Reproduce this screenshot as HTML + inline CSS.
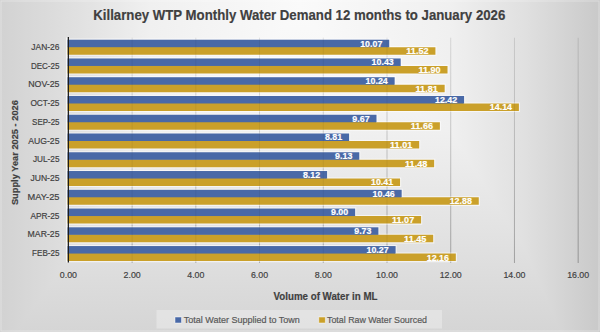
<!DOCTYPE html><html><head><meta charset="utf-8"><style>
html,body{margin:0;padding:0;width:600px;height:332px;overflow:hidden;background:#d8d8d8;}
#bgd{position:absolute;left:0;top:0;width:600px;height:332px;
background-image:linear-gradient(to right,#d2d2d2 0px,#e0e0e0 75px,#f0f0f0 150px,#fafafa 300px,#f0f0f0 450px,#e0e0e0 525px,#c9c9c9 600px),linear-gradient(to bottom,#fbfbfb 0px,#f4f4f4 100px,#d5d5d5 332px);
background-blend-mode:darken;}
svg{position:absolute;left:0;top:0;}
svg{display:block;font-family:"Liberation Sans",sans-serif;}
.d{stroke:#404040;stroke-width:0.18;}
.w{stroke:#fff;stroke-width:0.2;}
.l{stroke:#595959;stroke-width:0.2;}
</style></head><body>
<div id="bgd"></div>
<svg width="600" height="332" viewBox="0 0 600 332">
<defs>
<linearGradient id="gg" gradientUnits="userSpaceOnUse" x1="0" y1="37" x2="0" y2="263"><stop offset="0" stop-color="#000" stop-opacity="0.06"/><stop offset="0.5" stop-color="#000" stop-opacity="0.14"/><stop offset="1" stop-color="#000" stop-opacity="0.24"/></linearGradient>
<filter id="gl" x="-2%" y="-2%" width="104%" height="104%"><feGaussianBlur stdDeviation="0.45"/></filter>
</defs>
<rect x="1" y="1" width="598" height="330" fill="none" stroke="#fff" stroke-opacity="0.35" stroke-width="1"/>

<line x1="132.12" y1="37.6" x2="132.12" y2="263.0" stroke="url(#gg)" stroke-width="1"/>
<line x1="195.84" y1="37.6" x2="195.84" y2="263.0" stroke="url(#gg)" stroke-width="1"/>
<line x1="259.56" y1="37.6" x2="259.56" y2="263.0" stroke="url(#gg)" stroke-width="1"/>
<line x1="323.28" y1="37.6" x2="323.28" y2="263.0" stroke="url(#gg)" stroke-width="1"/>
<line x1="387.00" y1="37.6" x2="387.00" y2="263.0" stroke="url(#gg)" stroke-width="1"/>
<line x1="450.72" y1="37.6" x2="450.72" y2="263.0" stroke="url(#gg)" stroke-width="1"/>
<line x1="514.44" y1="37.6" x2="514.44" y2="263.0" stroke="url(#gg)" stroke-width="1"/>
<line x1="578.16" y1="37.6" x2="578.16" y2="263.0" stroke="url(#gg)" stroke-width="1"/>
<g filter="url(#gl)">
<path d="M68.40,39.70H389.23V47.20H435.43V54.70H68.40Z" fill="none" stroke="#fff" stroke-opacity="0.6" stroke-width="2.2"/>
<path d="M68.40,58.46H400.70V65.96H447.53V73.46H68.40Z" fill="none" stroke="#fff" stroke-opacity="0.6" stroke-width="2.2"/>
<path d="M68.40,77.22H394.65V84.72H444.67V92.22H68.40Z" fill="none" stroke="#fff" stroke-opacity="0.6" stroke-width="2.2"/>
<path d="M68.40,95.98H464.10V103.48H518.90V110.98H68.40Z" fill="none" stroke="#fff" stroke-opacity="0.6" stroke-width="2.2"/>
<path d="M68.40,114.74H376.49V122.24H439.89V129.74H68.40Z" fill="none" stroke="#fff" stroke-opacity="0.6" stroke-width="2.2"/>
<path d="M68.40,133.50H349.09V141.00H419.18V148.50H68.40Z" fill="none" stroke="#fff" stroke-opacity="0.6" stroke-width="2.2"/>
<path d="M68.40,152.26H359.28V159.76H434.15V167.26H68.40Z" fill="none" stroke="#fff" stroke-opacity="0.6" stroke-width="2.2"/>
<path d="M68.40,171.02H327.10V178.52H400.06V186.02H68.40Z" fill="none" stroke="#fff" stroke-opacity="0.6" stroke-width="2.2"/>
<path d="M68.40,189.78H401.66V197.28H478.76V204.78H68.40Z" fill="none" stroke="#fff" stroke-opacity="0.6" stroke-width="2.2"/>
<path d="M68.40,208.54H355.14V216.04H421.09V223.54H68.40Z" fill="none" stroke="#fff" stroke-opacity="0.6" stroke-width="2.2"/>
<path d="M68.40,227.30H378.40V234.80H433.20V242.30H68.40Z" fill="none" stroke="#fff" stroke-opacity="0.6" stroke-width="2.2"/>
<path d="M68.40,246.06H395.60V253.56H455.82V261.06H68.40Z" fill="none" stroke="#fff" stroke-opacity="0.6" stroke-width="2.2"/>
</g>
<path d="M67.40,46.60H388.63V47.20H435.43V54.70H67.40Z" fill="#CAA02A"/>
<rect x="67.4" y="39.70" width="321.83" height="7.50" fill="#4969A7"/>
<path d="M67.40,65.36H400.10V65.96H447.53V73.46H67.40Z" fill="#CAA02A"/>
<rect x="67.4" y="58.46" width="333.30" height="7.50" fill="#4969A7"/>
<path d="M67.40,84.12H394.05V84.72H444.67V92.22H67.40Z" fill="#CAA02A"/>
<rect x="67.4" y="77.22" width="327.25" height="7.50" fill="#4969A7"/>
<path d="M67.40,102.88H463.50V103.48H518.90V110.98H67.40Z" fill="#CAA02A"/>
<rect x="67.4" y="95.98" width="396.70" height="7.50" fill="#4969A7"/>
<path d="M67.40,121.64H375.89V122.24H439.89V129.74H67.40Z" fill="#CAA02A"/>
<rect x="67.4" y="114.74" width="309.09" height="7.50" fill="#4969A7"/>
<path d="M67.40,140.40H348.49V141.00H419.18V148.50H67.40Z" fill="#CAA02A"/>
<rect x="67.4" y="133.50" width="281.69" height="7.50" fill="#4969A7"/>
<path d="M67.40,159.16H358.68V159.76H434.15V167.26H67.40Z" fill="#CAA02A"/>
<rect x="67.4" y="152.26" width="291.88" height="7.50" fill="#4969A7"/>
<path d="M67.40,177.92H326.50V178.52H400.06V186.02H67.40Z" fill="#CAA02A"/>
<rect x="67.4" y="171.02" width="259.70" height="7.50" fill="#4969A7"/>
<path d="M67.40,196.68H401.06V197.28H478.76V204.78H67.40Z" fill="#CAA02A"/>
<rect x="67.4" y="189.78" width="334.26" height="7.50" fill="#4969A7"/>
<path d="M67.40,215.44H354.54V216.04H421.09V223.54H67.40Z" fill="#CAA02A"/>
<rect x="67.4" y="208.54" width="287.74" height="7.50" fill="#4969A7"/>
<path d="M67.40,234.20H377.80V234.80H433.20V242.30H67.40Z" fill="#CAA02A"/>
<rect x="67.4" y="227.30" width="311.00" height="7.50" fill="#4969A7"/>
<path d="M67.40,252.96H395.00V253.56H455.82V261.06H67.40Z" fill="#CAA02A"/>
<rect x="67.4" y="246.06" width="328.20" height="7.50" fill="#4969A7"/>
<line x1="132.12" y1="37.82" x2="132.12" y2="262.94" stroke="#000" stroke-opacity="0.06" stroke-width="1"/>
<line x1="195.84" y1="37.82" x2="195.84" y2="262.94" stroke="#000" stroke-opacity="0.06" stroke-width="1"/>
<line x1="259.56" y1="37.82" x2="259.56" y2="262.94" stroke="#000" stroke-opacity="0.06" stroke-width="1"/>
<line x1="323.28" y1="37.82" x2="323.28" y2="262.94" stroke="#000" stroke-opacity="0.06" stroke-width="1"/>
<line x1="387.00" y1="37.82" x2="387.00" y2="262.94" stroke="#000" stroke-opacity="0.06" stroke-width="1"/>
<line x1="450.72" y1="37.82" x2="450.72" y2="262.94" stroke="#000" stroke-opacity="0.06" stroke-width="1"/>
<line x1="514.44" y1="37.82" x2="514.44" y2="262.94" stroke="#000" stroke-opacity="0.06" stroke-width="1"/>
<line x1="578.16" y1="37.82" x2="578.16" y2="262.94" stroke="#000" stroke-opacity="0.06" stroke-width="1"/>
<line x1="66.7" y1="37.5" x2="66.7" y2="262.5" stroke="#fff" stroke-opacity="0.75" stroke-width="1.3"/>
<line x1="68.35" y1="37.0" x2="68.35" y2="262.5" stroke="#1a1a1a" stroke-width="1.25"/>
<text x="59.5" y="49.80" font-size="9.2" class="d" fill="#404040" text-anchor="end" textLength="28.2" lengthAdjust="spacingAndGlyphs">JAN-26</text>
<text x="382.33" y="46.65" font-size="9.7" font-weight="bold" class="w" fill="#fff" text-anchor="end" textLength="22.2" lengthAdjust="spacingAndGlyphs">10.07</text>
<text x="428.53" y="54.15" font-size="9.7" font-weight="bold" class="w" fill="#fff" text-anchor="end" textLength="22.2" lengthAdjust="spacingAndGlyphs">11.52</text>
<text x="59.5" y="68.56" font-size="9.2" class="d" fill="#404040" text-anchor="end" textLength="28.6" lengthAdjust="spacingAndGlyphs">DEC-25</text>
<text x="393.80" y="65.41" font-size="9.7" font-weight="bold" class="w" fill="#fff" text-anchor="end" textLength="22.2" lengthAdjust="spacingAndGlyphs">10.43</text>
<text x="440.63" y="72.91" font-size="9.7" font-weight="bold" class="w" fill="#fff" text-anchor="end" textLength="22.2" lengthAdjust="spacingAndGlyphs">11.90</text>
<text x="59.5" y="87.32" font-size="9.2" class="d" fill="#404040" text-anchor="end" textLength="31.3" lengthAdjust="spacingAndGlyphs">NOV-25</text>
<text x="387.75" y="84.17" font-size="9.7" font-weight="bold" class="w" fill="#fff" text-anchor="end" textLength="22.2" lengthAdjust="spacingAndGlyphs">10.24</text>
<text x="437.77" y="91.67" font-size="9.7" font-weight="bold" class="w" fill="#fff" text-anchor="end" textLength="22.2" lengthAdjust="spacingAndGlyphs">11.81</text>
<text x="59.5" y="106.08" font-size="9.2" class="d" fill="#404040" text-anchor="end" textLength="29.1" lengthAdjust="spacingAndGlyphs">OCT-25</text>
<text x="457.20" y="102.93" font-size="9.7" font-weight="bold" class="w" fill="#fff" text-anchor="end" textLength="22.2" lengthAdjust="spacingAndGlyphs">12.42</text>
<text x="512.00" y="110.43" font-size="9.7" font-weight="bold" class="w" fill="#fff" text-anchor="end" textLength="22.2" lengthAdjust="spacingAndGlyphs">14.14</text>
<text x="59.5" y="124.84" font-size="9.2" class="d" fill="#404040" text-anchor="end" textLength="27.4" lengthAdjust="spacingAndGlyphs">SEP-25</text>
<text x="369.59" y="121.69" font-size="9.7" font-weight="bold" class="w" fill="#fff" text-anchor="end" textLength="17.3" lengthAdjust="spacingAndGlyphs">9.67</text>
<text x="432.99" y="129.19" font-size="9.7" font-weight="bold" class="w" fill="#fff" text-anchor="end" textLength="22.2" lengthAdjust="spacingAndGlyphs">11.66</text>
<text x="59.5" y="143.60" font-size="9.2" class="d" fill="#404040" text-anchor="end" textLength="31.3" lengthAdjust="spacingAndGlyphs">AUG-25</text>
<text x="342.19" y="140.45" font-size="9.7" font-weight="bold" class="w" fill="#fff" text-anchor="end" textLength="17.3" lengthAdjust="spacingAndGlyphs">8.81</text>
<text x="412.28" y="147.95" font-size="9.7" font-weight="bold" class="w" fill="#fff" text-anchor="end" textLength="22.2" lengthAdjust="spacingAndGlyphs">11.01</text>
<text x="59.5" y="162.36" font-size="9.2" class="d" fill="#404040" text-anchor="end" textLength="26.6" lengthAdjust="spacingAndGlyphs">JUL-25</text>
<text x="352.38" y="159.21" font-size="9.7" font-weight="bold" class="w" fill="#fff" text-anchor="end" textLength="17.3" lengthAdjust="spacingAndGlyphs">9.13</text>
<text x="427.25" y="166.71" font-size="9.7" font-weight="bold" class="w" fill="#fff" text-anchor="end" textLength="22.2" lengthAdjust="spacingAndGlyphs">11.48</text>
<text x="59.5" y="181.12" font-size="9.2" class="d" fill="#404040" text-anchor="end" textLength="29.1" lengthAdjust="spacingAndGlyphs">JUN-25</text>
<text x="320.20" y="177.97" font-size="9.7" font-weight="bold" class="w" fill="#fff" text-anchor="end" textLength="17.3" lengthAdjust="spacingAndGlyphs">8.12</text>
<text x="393.16" y="185.47" font-size="9.7" font-weight="bold" class="w" fill="#fff" text-anchor="end" textLength="22.2" lengthAdjust="spacingAndGlyphs">10.41</text>
<text x="59.5" y="199.88" font-size="9.2" class="d" fill="#404040" text-anchor="end" textLength="31.9" lengthAdjust="spacingAndGlyphs">MAY-25</text>
<text x="394.76" y="196.73" font-size="9.7" font-weight="bold" class="w" fill="#fff" text-anchor="end" textLength="22.2" lengthAdjust="spacingAndGlyphs">10.46</text>
<text x="471.86" y="204.23" font-size="9.7" font-weight="bold" class="w" fill="#fff" text-anchor="end" textLength="22.2" lengthAdjust="spacingAndGlyphs">12.88</text>
<text x="59.5" y="218.64" font-size="9.2" class="d" fill="#404040" text-anchor="end" textLength="29.1" lengthAdjust="spacingAndGlyphs">APR-25</text>
<text x="348.24" y="215.49" font-size="9.7" font-weight="bold" class="w" fill="#fff" text-anchor="end" textLength="17.3" lengthAdjust="spacingAndGlyphs">9.00</text>
<text x="414.19" y="222.99" font-size="9.7" font-weight="bold" class="w" fill="#fff" text-anchor="end" textLength="22.2" lengthAdjust="spacingAndGlyphs">11.07</text>
<text x="59.5" y="237.40" font-size="9.2" class="d" fill="#404040" text-anchor="end" textLength="31.9" lengthAdjust="spacingAndGlyphs">MAR-25</text>
<text x="371.50" y="234.25" font-size="9.7" font-weight="bold" class="w" fill="#fff" text-anchor="end" textLength="17.3" lengthAdjust="spacingAndGlyphs">9.73</text>
<text x="426.30" y="241.75" font-size="9.7" font-weight="bold" class="w" fill="#fff" text-anchor="end" textLength="22.2" lengthAdjust="spacingAndGlyphs">11.45</text>
<text x="59.5" y="256.16" font-size="9.2" class="d" fill="#404040" text-anchor="end" textLength="27.4" lengthAdjust="spacingAndGlyphs">FEB-25</text>
<text x="388.70" y="253.01" font-size="9.7" font-weight="bold" class="w" fill="#fff" text-anchor="end" textLength="22.2" lengthAdjust="spacingAndGlyphs">10.27</text>
<text x="448.92" y="260.51" font-size="9.7" font-weight="bold" class="w" fill="#fff" text-anchor="end" textLength="22.2" lengthAdjust="spacingAndGlyphs">12.16</text>
<text x="68.40" y="278.4" font-size="9.6" class="d" fill="#404040" text-anchor="middle" textLength="17.2" lengthAdjust="spacingAndGlyphs">0.00</text>
<text x="132.12" y="278.4" font-size="9.6" class="d" fill="#404040" text-anchor="middle" textLength="17.2" lengthAdjust="spacingAndGlyphs">2.00</text>
<text x="195.84" y="278.4" font-size="9.6" class="d" fill="#404040" text-anchor="middle" textLength="17.2" lengthAdjust="spacingAndGlyphs">4.00</text>
<text x="259.56" y="278.4" font-size="9.6" class="d" fill="#404040" text-anchor="middle" textLength="17.2" lengthAdjust="spacingAndGlyphs">6.00</text>
<text x="323.28" y="278.4" font-size="9.6" class="d" fill="#404040" text-anchor="middle" textLength="17.2" lengthAdjust="spacingAndGlyphs">8.00</text>
<text x="387.00" y="278.4" font-size="9.6" class="d" fill="#404040" text-anchor="middle" textLength="22.0" lengthAdjust="spacingAndGlyphs">10.00</text>
<text x="450.72" y="278.4" font-size="9.6" class="d" fill="#404040" text-anchor="middle" textLength="22.0" lengthAdjust="spacingAndGlyphs">12.00</text>
<text x="514.44" y="278.4" font-size="9.6" class="d" fill="#404040" text-anchor="middle" textLength="22.0" lengthAdjust="spacingAndGlyphs">14.00</text>
<text x="578.16" y="278.4" font-size="9.6" class="d" fill="#404040" text-anchor="middle" textLength="22.0" lengthAdjust="spacingAndGlyphs">16.00</text>
<text x="299.3" y="19.6" font-size="15" font-weight="bold" class="d" fill="#404040" text-anchor="middle" textLength="412" lengthAdjust="spacingAndGlyphs">Killarney WTP Monthly Water Demand 12 months to January 2026</text>
<text x="325.5" y="299.6" font-size="10" font-weight="bold" class="d" fill="#404040" text-anchor="middle" textLength="104" lengthAdjust="spacingAndGlyphs">Volume of Water in ML</text>
<text transform="translate(18.4 152.6) rotate(-90)" x="0" y="0" font-size="9.6" font-weight="bold" class="d" fill="#404040" text-anchor="middle" textLength="105" lengthAdjust="spacingAndGlyphs">Supply Year 2025 - 2026</text>
<rect x="156.5" y="310" width="285.5" height="18.5" fill="#ececec" opacity="0.55"/>
<rect x="175" y="317" width="6.5" height="6" fill="#4969A7" stroke="#fff" stroke-opacity="0.6" stroke-width="0.8"/>
<text x="183.8" y="322.6" font-size="9.5" class="l" fill="#595959" textLength="116" lengthAdjust="spacingAndGlyphs">Total Water Supplied to Town</text>
<rect x="318.8" y="317" width="6.5" height="6" fill="#CAA02A" stroke="#fff" stroke-opacity="0.6" stroke-width="0.8"/>
<text x="327" y="322.6" font-size="9.5" class="l" fill="#595959" textLength="100" lengthAdjust="spacingAndGlyphs">Total Raw Water Sourced</text>
</svg></body></html>
